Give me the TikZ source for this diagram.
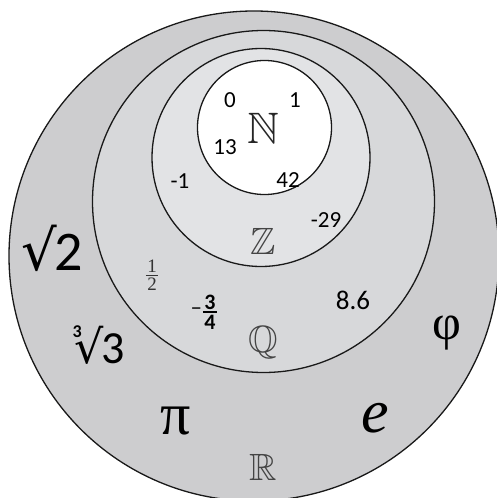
\documentclass[tikz,border=0pt]{standalone}
\usepackage{amssymb}
\usepackage{fontspec}
\setmainfont{Carlito}
\newfontfamily\symfont{DejaVu Sans}
\newfontfamily\greekfont{Liberation Serif}
\usepackage{tikz}
\definecolor{realgray}{HTML}{CDCDCF}
\definecolor{ratgray}{HTML}{D7D8DA}
\definecolor{intgray}{HTML}{E2E3E5}
\definecolor{setgray}{HTML}{444444}
% stacked fraction: #1 bar thickness, #2 font, #3 over #4
\newcommand{\numfrac}[4]{{#2\raisebox{-0.62em}{\vbox{\halign{\hfil\kern1.5pt##\kern1.5pt\hfil\cr #3\cr
  \noalign{\kern2pt\hrule height #1\kern2pt}#4\cr}}}}}
\tikzset{
  venn/.style={x=1pt, y=-1pt, line width=1.3pt},
  setring/.style={draw=black!90},
  elem/.style={font=\fontsize{23}{25}\selectfont, inner sep=0pt},
  setname/.style={font=\fontsize{38}{40}\selectfont, text=setgray, inner sep=0pt},
  bigsym/.style={font=\fontsize{56}{58}\selectfont, inner sep=0pt},
}

\begin{document}
\begin{tikzpicture}[venn]
  \useasboundingbox (0,0) rectangle (497,498);
  \fill[white] (0,0) rectangle (497,498);
  % nested sets: R, Q, Z, N
  \filldraw[setring, fill=realgray] (254,256) circle[radius=245];
  \filldraw[setring, fill=ratgray] (263.5,201.5) circle[radius=171];
  \filldraw[setring, fill=intgray] (261,157.5) circle[radius=109];
  \filldraw[setring, fill=white] (264.5,127.5) circle[radius=67];
  % natural numbers
  \node[elem] (nzero) at (230,100) {0};
  \node[elem] (none) at (295,100) {1};
  \node[setname, text=black!85, font=\fontsize{44}{46}\selectfont] (setN) at (263,128) {$\mathbb{N}$};
  \node[elem] (nthirteen) at (225,147) {13};
  \node[elem] (nfortytwo) at (288,180) {42};
  % integers
  \node[elem] (zminusone) at (180,181) {-1};
  \node[elem] (zminustwentynine) at (326,220) {-29};
  \node[setname] (setZ) at (263,241) {$\mathbb{Z}$};
  % rationals
  \node[elem, text=black!80] (qhalf) at (152,275)
    {\numfrac{0.9pt}{\fontsize{19}{19}\selectfont\greekfont}{1}{2}};
  \node[elem, font=\fontsize{22}{22}\selectfont\bfseries] (qthreequarters) at (204,312)
    {\mdseries−\kern1pt\numfrac{1.8pt}{\bfseries}{3}{4}};
  \node[elem, font=\fontsize{27}{29}\selectfont] (qeightsix) at (353,300) {8.6};
  \node[setname] (setQ) at (263,343) {$\mathbb{Q}$};
  % reals
  \node[bigsym] (rsqrttwo) at (52,248) {\symfont √\kern-0.05em\fontspec{Carlito}2};
  \node[bigsym, font=\fontsize{46}{48}\selectfont] (rcbrtthree) at (99,345)
    {\raisebox{0.55em}{\fontsize{18}{18}\selectfont\bfseries 3}\kern-0.15em{\symfont √}\kern-0.05em 3};
  \node[bigsym, font=\fontsize{50}{52}\selectfont\greekfont] (rphi) at (447,333) {φ};
  \node[bigsym, font=\fontsize{60}{62}\selectfont\greekfont] (rpi) at (176,421) {π};
  \node[bigsym, font=\fontsize{62}{64}\selectfont\greekfont\itshape] (reuler) at (375,418) {e};
  \node[setname] (setR) at (263,467) {$\mathbb{R}$};
\end{tikzpicture}
\end{document}
